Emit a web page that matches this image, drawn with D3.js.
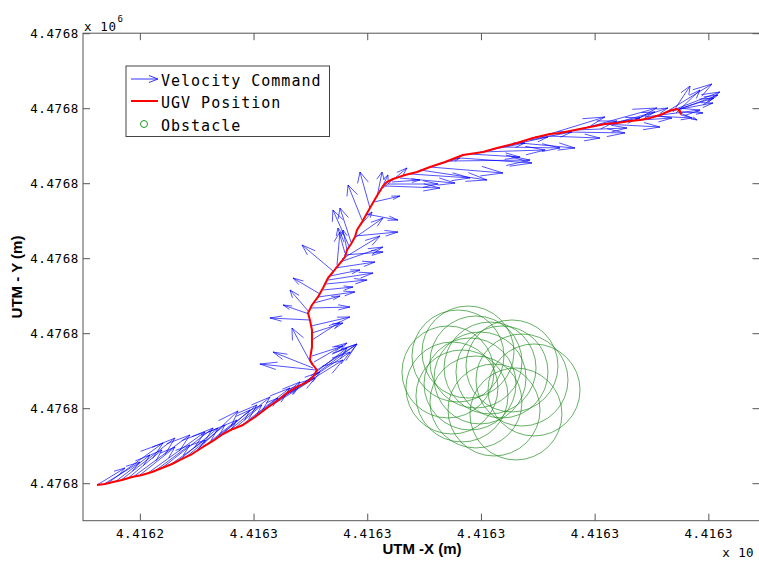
<html>
<script src='https://d3js.org/d3.v7.min.js'></script>
<head>
<style>
  body { margin:0; background:#fff; }
  svg { display:block; }
  .tick text { font-family:"DejaVu Sans Mono", monospace; font-size:12.5px; letter-spacing:0.6px; fill:#000; }
  .tick line { stroke:#555; }
  .lbl { font-family:"Liberation Sans", Arial, sans-serif; font-weight:bold; font-size:15px; }
  .leg { font-family:"DejaVu Sans Mono", monospace; font-size:15px; letter-spacing:1px; }
</style>
</head>
<body>
<svg width=759 height=561></svg>
<script>

// UTM offsets (m): easting from 4416240, northing from 4476755
var E0 = 4416240, N0 = 4476755;

var xTicks = [5, 15, 25, 35, 45, 55];
var xTickLabels = ["4.4162", "4.4163", "4.4163", "4.4163", "4.4163", "4.4163"];
var yTicks = [5, 15, 25, 35, 45, 55, 65];
var yTickLabels = ["4.4768", "4.4768", "4.4768", "4.4768", "4.4768", "4.4768", "4.4768"];

// UGV position track
var pathE = [1.23,1.93,2.64,3.43,4.31,5.19,6.07,6.95,7.83,8.71,9.59,10.55,11.43,12.31,13.19,14.07,15.13,16.18,17.06,17.94,
  18.82,19.70,20.23,20.58,20.23,19.96,20.05,20.14,20.14,20.14,19.96,19.79,20.14,20.67,21.11,21.55,21.99,22.34,22.69,23.04,
  23.22,23.57,23.92,24.10,24.54,24.89,25.24,25.59,25.95,26.39,26.74,27.26,28.32,29.38,30.52,31.84,33.42,35.18,36.41,38.17,
  39.58,41.07,41.95,43.27,44.59,45.91,46.97,48.11,48.99,49.87,50.75,51.36,51.80,52.24,52.51,52.59,52.42];
var pathN = [4.76,4.89,5.16,5.43,5.83,6.09,6.49,7.03,7.56,8.23,8.89,9.83,10.63,11.56,12.23,12.76,13.83,15.03,15.96,17.03,
  17.83,18.49,19.16,20.09,20.76,21.43,22.36,23.16,24.36,25.43,26.76,27.69,28.76,29.83,31.03,32.36,33.16,33.83,34.49,35.16,
  36.09,36.89,37.83,38.76,39.83,40.76,41.69,42.63,43.56,44.63,45.16,45.56,46.09,46.49,47.16,47.83,48.76,49.16,49.69,50.36,
  51.03,51.56,51.69,52.09,52.49,52.89,53.03,53.29,53.43,53.69,54.09,54.49,54.76,54.89,54.63,54.23,54.63];

// velocity command arrows: origin (E,N) and vector (U,V)
var velE = [1.23,1.85,2.20,2.81,3.25,3.87,4.40,5.01,5.72,6.33,6.95,7.65,8.36,9.06,9.76,10.47,11.17,11.87,12.58,13.28,
  13.98,14.69,15.39,16.09,16.80,17.50,18.21,18.91,19.53,20.05,20.49,20.23,20.14,20.58,20.32,20.14,20.14,20.14,20.05,19.96,
  19.88,19.88,20.05,20.32,20.67,20.84,21.11,21.37,21.55,21.72,21.99,22.16,22.34,22.60,22.78,22.96,23.04,23.22,23.39,23.57,
  23.75,23.92,24.19,24.54,24.89,25.24,25.59,25.86,26.12,26.39,26.56,26.83,27.18,27.88,28.76,29.64,30.52,31.40,32.28,33.16,
  34.04,34.92,35.80,36.68,37.55,38.43,39.31,40.19,40.90,41.60,42.39,43.27,44.15,45.03,45.91,46.79,47.67,48.55,49.43,50.31,
  51.01,51.45,51.80,52.07,52.33,52.51,52.51,52.16,51.89];
var velN = [4.76,4.89,5.03,5.16,5.29,5.56,5.83,6.09,6.36,6.63,7.03,7.43,7.96,8.49,9.03,9.69,10.36,11.03,11.69,12.23,
  12.76,13.43,14.09,14.89,15.56,16.36,17.03,17.83,18.49,19.29,20.09,20.36,20.76,20.09,21.16,21.96,24.09,25.03,25.96,26.76,
  27.56,27.83,28.36,29.03,29.83,30.23,30.76,31.56,32.09,32.63,33.29,33.69,34.09,34.49,34.89,35.43,35.69,36.09,36.63,37.16,
  37.56,37.96,39.03,40.09,40.89,41.69,42.49,43.16,43.83,44.36,44.63,44.89,45.16,45.69,46.23,46.76,47.16,47.56,47.96,48.36,
  48.89,49.16,49.43,49.83,50.09,50.36,50.76,51.16,51.29,51.56,51.83,52.09,52.36,52.63,52.89,53.03,53.29,53.56,53.83,53.96,
  54.23,54.49,54.63,54.76,54.76,54.49,54.36,54.36,54.49];
var velU = [2.46,3.17,4.84,3.08,4.84,3.08,5.01,3.08,5.01,3.08,4.49,3.08,3.52,3.43,3.87,3.08,4.13,2.81,3.87,2.46,
  4.22,2.46,3.69,2.99,3.61,3.34,4.66,5.19,3.96,3.17,-4.93,-3.52,-1.76,3.52,2.90,2.73,2.46,2.73,3.43,-3.52,
  -2.29,-1.67,3.43,2.29,3.25,-2.37,2.64,3.61,3.96,2.64,-2.73,3.52,0.26,3.78,3.34,3.43,-0.62,-0.35,-1.41,-0.97,
  2.64,3.78,1.23,-1.23,2.81,-0.88,2.29,0.44,0.70,2.11,4.84,4.40,2.46,4.84,5.28,5.89,6.42,1.76,7.04,6.33,
  4.40,5.72,3.08,5.28,3.34,4.84,3.69,5.72,4.57,5.36,5.28,4.57,6.33,3.96,4.84,3.52,4.13,2.90,4.84,3.25,
  4.31,4.57,3.69,3.34,3.52,2.02,1.50,2.11,1.50];
var velV = [2.27,2.93,5.33,3.60,5.73,3.87,5.60,3.73,5.47,3.47,5.33,3.33,4.40,4.27,5.60,3.73,5.07,3.73,4.80,3.20,
  4.93,2.93,4.40,3.20,3.47,3.47,4.40,5.73,4.00,3.73,0.80,2.13,4.93,3.47,2.53,1.33,2.40,1.33,1.20,0.27,
  1.20,2.93,0.13,0.93,0.67,2.13,0.40,0.53,0.93,0.80,3.47,0.80,4.40,2.00,3.07,0.40,3.33,2.67,4.80,4.53,
  2.80,0.53,2.13,4.67,-0.80,4.80,0.80,3.33,2.27,2.67,-0.27,0.00,0.27,-0.67,-0.53,-1.33,-0.80,0.80,0.13,-0.67,
  -0.40,0.27,0.93,-0.13,1.07,-0.67,1.07,2.67,-0.27,1.73,-0.13,0.27,2.67,1.07,-0.40,1.47,0.40,1.47,0.93,-0.27,
  4.00,2.67,1.73,0.93,2.00,-0.13,-0.93,3.07,3.47];

// obstacle detections
var obsE = [32.98,33.86,34.56,32.10,32.45,33.33,34.92,35.80,36.85,37.73,38.61,39.67,38.08,36.15,34.56,34.04];
var obsN = [21.96,22.49,21.16,19.83,17.69,16.63,19.03,20.36,19.83,20.63,18.76,17.43,14.23,14.76,15.83,18.23];

var svg = d3.select("svg");
var x = d3.scaleLinear().domain([0, 59.5]).range([83, 759.5]);
var y = d3.scaleLinear().domain([0, 65]).range([520.7, 33.2]);

// obstacles (marker circles, fixed pixel size)
svg.append("g").selectAll("circle").data(obsE).enter().append("circle")
  .attr("cx", function(d){ return x(d); })
  .attr("cy", function(d, i){ return y(obsN[i]); })
  .attr("r", 46)
  .attr("fill", "none")
  .attr("stroke", "#1e8c1e")
  .attr("stroke-width", 0.8)
  .attr("stroke-opacity", 0.85);

// quiver, heads computed in data units like matlab does
var alpha = 0.3, beta = 0.33;
var arrows = svg.append("g").attr("fill", "none").attr("stroke", "#0000ff").attr("stroke-width", 0.8).attr("stroke-opacity", 0.85);
velE.forEach(function(e, i){
  var n = velN[i], u = velU[i], v = velV[i];
  var tx = e + u, ty = n + v;
  arrows.append("path").attr("d",
    "M" + x(e) + "," + y(n) + "L" + x(tx) + "," + y(ty) +
    "M" + x(tx - alpha*(u + beta*v)) + "," + y(ty - alpha*(v - beta*u)) +
    "L" + x(tx) + "," + y(ty) +
    "L" + x(tx - alpha*(u - beta*v)) + "," + y(ty - alpha*(v + beta*u)));
});

// UGV position
var line = d3.line().x(function(d){ return x(d); }).y(function(d, i){ return y(pathN[i]); });
svg.append("path").datum(pathE).attr("d", line)
  .attr("fill", "none").attr("stroke", "#ff0000").attr("stroke-width", 2).attr("stroke-linejoin", "round");

// axes box
var xb = svg.append("g").attr("transform", "translate(0,520.7)")
  .call(d3.axisBottom(x).tickValues(xTicks).tickSize(-7).tickPadding(8).tickFormat(function(d, i){ return xTickLabels[i]; }));
var yl = svg.append("g").attr("transform", "translate(83,0)")
  .call(d3.axisLeft(y).tickValues(yTicks).tickSize(-7).tickPadding(4).tickFormat(function(d, i){ return yTickLabels[i]; }));
var xt = svg.append("g").attr("transform", "translate(0,33.2)")
  .call(d3.axisTop(x).tickValues(xTicks).tickSize(-7).tickFormat(""));
var yr = svg.append("g").attr("transform", "translate(759.5,0)")
  .call(d3.axisRight(y).tickValues(yTicks).tickSize(-7).tickFormat(""));
[xb, yl, xt, yr].forEach(function(g){ g.select(".domain").remove(); });
svg.selectAll(".tick text").attr("font-family", null).attr("font-size", null);

svg.append("rect").attr("x", 83).attr("y", 33.2).attr("width", 676.5).attr("height", 487.5)
  .attr("fill", "none").attr("stroke", "#555").attr("stroke-width", 1);

// exponent labels
var mono = "DejaVu Sans Mono, monospace";
var ex1 = svg.append("text").attr("x", 84).attr("y", 30.5).attr("font-family", mono).attr("font-size", 12.5).attr("letter-spacing", 0.6);
ex1.append("tspan").text("x 10");
ex1.append("tspan").attr("font-size", 9).attr("dy", -9).attr("dx", 1).text("6");
svg.append("text").attr("x", 754).attr("y", 557).attr("text-anchor", "end").attr("font-family", mono)
  .attr("font-size", 12.5).attr("letter-spacing", 0.4).text("x 10");

// axis titles
svg.append("text").attr("class", "lbl").attr("x", 422).attr("y", 554).attr("text-anchor", "middle").text("UTM -X (m)");
svg.append("text").attr("class", "lbl").attr("text-anchor", "middle")
  .attr("transform", "translate(22,277) rotate(-90)").text("UTM - Y (m)");

// legend
var leg = svg.append("g");
leg.append("rect").attr("x", 126).attr("y", 66).attr("width", 203.5).attr("height", 70.5)
  .attr("fill", "#fff").attr("stroke", "#444").attr("stroke-width", 1);
leg.append("path").attr("d", "M131,79L158,79M149,75.5L158,79L149,82.5")
  .attr("fill", "none").attr("stroke", "#3333ff").attr("stroke-width", 1);
leg.append("line").attr("x1", 131).attr("x2", 158).attr("y1", 101).attr("y2", 101)
  .attr("stroke", "#ff0000").attr("stroke-width", 2);
leg.append("circle").attr("cx", 144).attr("cy", 124).attr("r", 3.5)
  .attr("fill", "none").attr("stroke", "#1e9c1e").attr("stroke-width", 1);
var legNames = ["Velocity Command", "UGV Position", "Obstacle"];
leg.selectAll("text.leg").data(legNames).enter().append("text").attr("class", "leg")
  .attr("x", 161).attr("y", function(d, i){ return 85.5 + i*22.5; }).text(function(d){ return d; });

</script>
</body>
</html>
